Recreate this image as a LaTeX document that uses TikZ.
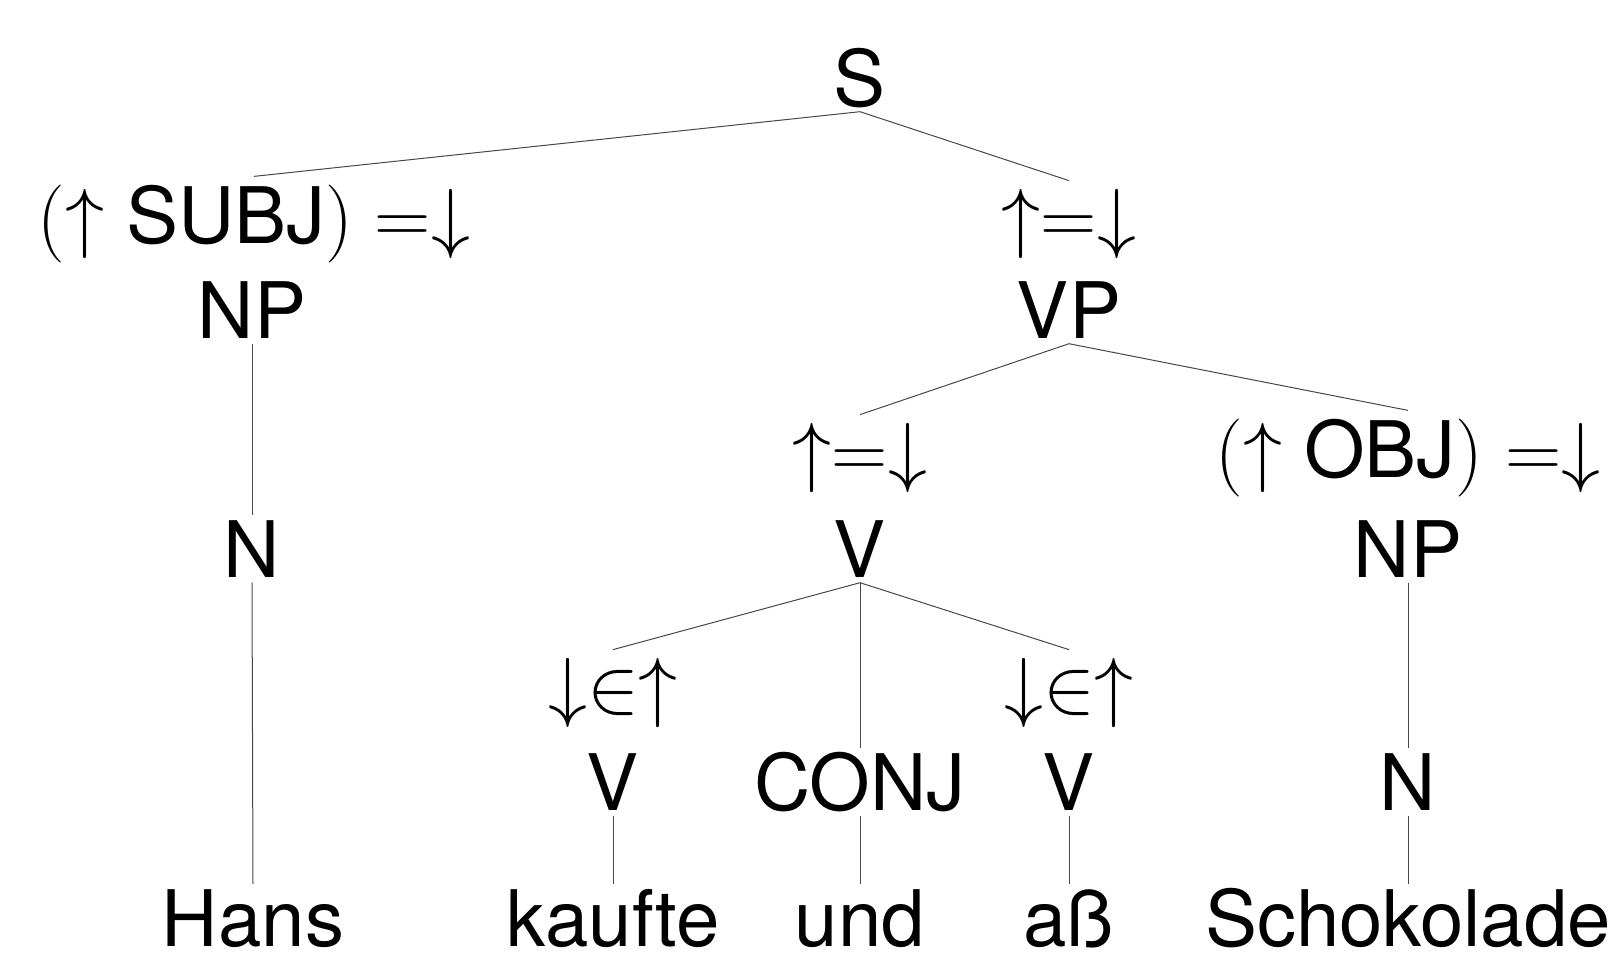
\documentclass[tikz,border=0pt]{standalone}
\usepackage{fix-cm}
\usepackage[no-math]{fontspec}
\setmainfont{TeX Gyre Heros}
\begin{document}
\begin{tikzpicture}[x=1pt,y=-1pt,
  lab/.style={font=\fontsize{78}{94}\selectfont, anchor=base, inner xsep=0pt},
  cat/.style={lab, text height=56pt, text depth=0pt, inner ysep=5.5pt},
  ann/.style={lab, inner ysep=8pt},
  leaf/.style={lab, text height=56pt, text depth=0pt, inner ysep=6pt},
  branch/.style={draw=black!72, line width=1pt}]
\useasboundingbox (0,0) rectangle (1612,964);
% row 0
\node[cat] (S) at (860,106) {S};
% row 1
\node[ann] (aSubj) at (254,243) {$(\uparrow$ SUBJ$)$ $=\downarrow$};
\node[cat] (NPa) at (252,338) {NP};
\node[ann] (aVP) at (1069,243) {$\uparrow=\downarrow$};
\node[cat] (VP) at (1069,338) {VP};
% row 2
\node[cat] (Na) at (252,577) {N};
\node[ann] (aV) at (860,477) {$\uparrow=\downarrow$};
\node[cat] (V) at (860,577) {V};
\node[ann] (aObj) at (1408,477) {$(\uparrow$ OBJ$)$ $=\downarrow$};
\node[cat] (NPb) at (1408,577) {NP};
% row 3
\node[ann] (aV1) at (613,712) {$\downarrow\in\uparrow$};
\node[cat] (V1) at (613,810) {V};
\node[cat] (CONJ) at (860,810) {CONJ};
\node[ann] (aV2) at (1069,712) {$\downarrow\in\uparrow$};
\node[cat] (V2) at (1069,810) {V};
\node[cat] (Nb) at (1408,810) {N};
% leaves
\node[leaf] (Hans) at (253,946) {Hans};
\node[leaf] (kaufte) at (613,946) {kaufte};
\node[leaf] (und) at (860,946) {und};
\node[leaf] (ass) at (1069,946) {aß};
\node[leaf] (Scho) at (1408,946) {Schokolade};
% edges
\draw[branch] (S.south) -- (aSubj.north);
\draw[branch] (S.south) -- (aVP.north);
\draw[branch] (NPa.south) -- (Na.north);
\draw[branch] (Na.south) -- (Hans.north);
\draw[branch] (VP.south) -- (aV.north);
\draw[branch] (VP.south) -- (aObj.north);
\draw[branch] (V.south) -- (aV1.north);
\draw[branch] (V.south) -- (CONJ.north);
\draw[branch] (V.south) -- (aV2.north);
\draw[branch] (NPb.south) -- (Nb.north);
\draw[branch] (Nb.south) -- (Scho.north);
\draw[branch] (V1.south) -- (kaufte.north);
\draw[branch] (CONJ.south) -- (und.north);
\draw[branch] (V2.south) -- (ass.north);
\end{tikzpicture}
\end{document}
